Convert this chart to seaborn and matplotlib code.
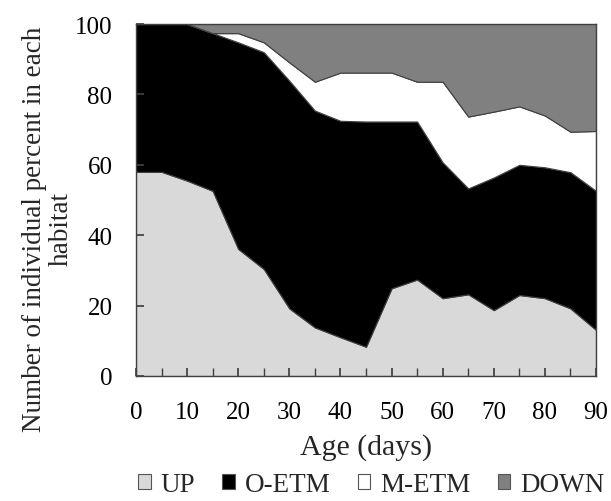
import matplotlib
matplotlib.use("Agg")
import matplotlib.pyplot as plt
from matplotlib.patches import Patch
import seaborn as sns
import pandas as pd

days = [0, 5, 10, 15, 20, 25, 30, 35, 40, 45, 50, 55, 60, 65, 70, 75, 80, 85, 90]
up = [58.0, 58.0, 55.5, 52.6, 36.1, 30.4, 19.2, 13.8, 11.0, 8.3, 24.9, 27.4, 22.1, 23.2, 18.7, 23.0, 22.1, 19.2, 13.1]
o_etm = [42.0, 42.0, 44.5, 44.8, 58.7, 61.6, 64.7, 61.6, 61.5, 64.0, 47.4, 44.9, 38.6, 30.1, 37.7, 37.0, 37.2, 38.7, 39.5]
m_etm = [0.0, 0.0, 0.0, 0.0, 2.6, 2.8, 5.2, 8.2, 13.7, 13.9, 13.9, 11.3, 22.9, 20.4, 18.7, 16.6, 14.7, 11.5, 17.0]
down = [0.0, 0.0, 0.0, 2.6, 2.6, 5.2, 10.9, 16.4, 13.8, 13.8, 13.8, 16.4, 16.4, 26.3, 24.9, 23.4, 26.0, 30.6, 30.4]
series_names = ["UP", "O-ETM", "M-ETM", "DOWN"]
colors = ["#d9d9d9", "#000000", "#ffffff", "#808080"]
x_ticks = [0, 10, 20, 30, 40, 50, 60, 70, 80, 90]
y_ticks = [0, 20, 40, 60, 80, 100]

df = pd.DataFrame({"Age": days, "UP": up, "O-ETM": o_etm, "M-ETM": m_etm, "DOWN": down})

sns.set_theme(style="ticks")
plt.rcParams["font.family"] = ["Liberation Serif", "DejaVu Serif"]

fig = plt.figure(figsize=(6.11, 5.02), dpi=100)
ax = fig.add_axes([136 / 611, 1 - 377 / 502, 460 / 611, 352 / 502])

ax.stackplot(df["Age"], [df[n] for n in series_names], colors=colors,
             edgecolor="#404040", linewidth=0.8)

ax.set_xlim(0, 90)
ax.set_ylim(0, 100)
ax.set_xticks(x_ticks)
ax.set_xticks(days, minor=True)
ax.set_yticks(y_ticks)
ax.tick_params(axis="both", which="both", direction="in", color="#404040",
               labelsize=18, labelcolor="black")
ax.tick_params(axis="x", which="major", length=6, pad=18)
ax.tick_params(axis="x", which="minor", length=6)
ax.tick_params(axis="y", which="major", length=6, pad=17)
for s in ax.spines.values():
    s.set_color("#404040")
    s.set_linewidth(1.0)
ax.set_axisbelow(False)

ax.set_xlabel("Age (days)", fontsize=21.5, va="center")
ax.xaxis.set_label_coords(0.5, (377 - 448) / 352)
ax.set_ylabel("Number of individual percent in each\nhabitat", fontsize=19.5,
              linespacing=1.12, va="center", ha="center")
ax.yaxis.set_label_coords((48 - 136) / 460, (377 - 229) / 352)

handles = [Patch(facecolor=c, edgecolor="#555555", linewidth=0.8) for c in colors]
fig.legend(handles, series_names, loc="center left",
           bbox_to_anchor=(138 / 611, 1 - 486 / 502),
           ncol=4, frameon=False, fontsize=19.5, handlelength=0.47, handleheight=0.47,
           handletextpad=0.36, columnspacing=1.0, borderaxespad=0, borderpad=0)

fig.savefig("out.png", dpi=100)
